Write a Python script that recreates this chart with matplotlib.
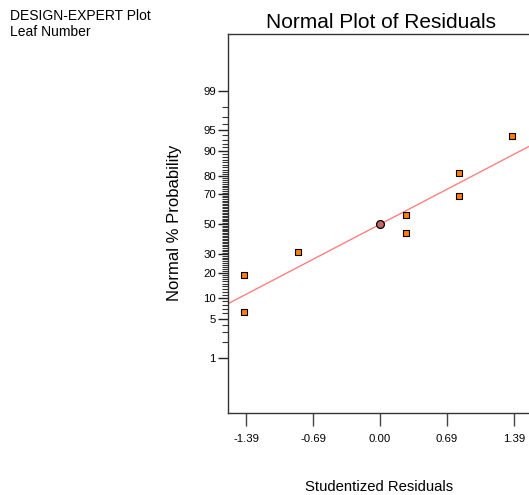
import numpy as np
import matplotlib
matplotlib.use("Agg")
import matplotlib.pyplot as plt
from statistics import NormalDist

plt.rcParams['font.family'] = ['Liberation Sans', 'DejaVu Sans']

# Studentized residuals and their normal % probability
resid = [-1.41, -1.41, -0.85, 0.27, 0.27, 0.82, 0.82, 1.37]
prob = [6.25, 18.75, 31.25, 43.75, 56.25, 68.75, 81.25, 93.75]
# centre point
center_resid = [0.0]
center_prob = [50.0]
# reference line end points
line_x = [-1.574, 1.546]
line_p = [8.32, 91.3]

xtick_vals = [-1.39, -0.69, 0.00, 0.69, 1.39]
xtick_labels = ["-1.39", "-0.69", "0.00", "0.69", "1.39"]
ytick_major = [1, 5, 10, 20, 30, 50, 70, 80, 90, 95, 99]
ytick_minor = [2, 3, 4] + list(range(6, 10)) + [p for p in range(11, 90) if p not in (20, 30, 50, 70, 80)] + [91, 92, 93, 94, 96, 97, 98]

_nd = NormalDist()


def fwd(p):
    p = np.clip(np.asarray(p, dtype=float) / 100.0, 1e-6, 1 - 1e-6)
    return np.vectorize(_nd.inv_cdf)(p)


def inv(z):
    return np.vectorize(_nd.cdf)(np.asarray(z, dtype=float)) * 100.0


W, H = 529, 495
fig = plt.figure(figsize=(W / 100, H / 100), dpi=100)

left_px, right_px, top_px, bot_px = 228.3, 560.0, 34.0, 412.7
ax = fig.add_axes([left_px / W, 1 - bot_px / H, (right_px - left_px) / W, (bot_px - top_px) / H])

px_per_unit = 96.4
x0_px = 380.0
ax.set_xlim((left_px - x0_px) / px_per_unit, (right_px - x0_px) / px_per_unit)
ax.set_yscale('function', functions=(fwd, inv))
ax.set_ylim(inv(-3.288), inv(3.321))

ax.plot(line_x, line_p, color='#ff8080', lw=1.0, zorder=2)
ax.scatter(resid, prob, marker='s', s=20, facecolor='#ff8000', edgecolor='black', linewidths=0.8, zorder=3)
ax.scatter(center_resid, center_prob, marker='o', s=32, facecolor='#c86464', edgecolor='black', linewidths=0.9, zorder=3)

ax.set_xticks(xtick_vals)
ax.set_xticklabels(xtick_labels)
ax.set_yticks(ytick_major)
ax.set_yticklabels([str(v) for v in ytick_major])
ax.set_yticks(ytick_minor, minor=True)
ax.xaxis.set_minor_locator(matplotlib.ticker.NullLocator())

ax.tick_params(axis='x', which='major', direction='out', length=9, width=1, color='#444444', labelsize=8.2, pad=6)
ax.tick_params(axis='y', which='major', direction='out', length=7, width=1, color='#222222', labelsize=8.2, pad=2)
ax.tick_params(axis='y', which='minor', direction='out', length=4, width=0.8, color='#333333')

for s in ('left', 'bottom', 'top'):
    ax.spines[s].set_color('#333333')
    ax.spines[s].set_linewidth(1.0)
ax.spines['right'].set_visible(False)

fig.text(381 / W, 1 - 28 / H, "Normal Plot of Residuals", ha='center', va='baseline', fontsize=15)
fig.text(379 / W, 1 - 491 / H, "Studentized Residuals", ha='center', va='baseline', fontsize=10.7)
fig.text(175 / W, 1 - 223 / H, "Normal % Probability", ha='center', va='center', rotation=90, fontsize=12)
fig.text(10 / W, 1 - 19.5 / H, "DESIGN-EXPERT Plot", ha='left', va='baseline', fontsize=10)
fig.text(10 / W, 1 - 35.5 / H, "Leaf Number", ha='left', va='baseline', fontsize=10)

fig.savefig("out.png", dpi=100)
